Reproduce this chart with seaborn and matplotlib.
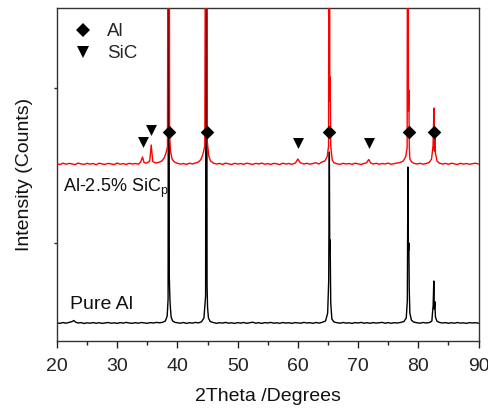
import matplotlib
matplotlib.use("Agg")
import matplotlib.pyplot as plt
from matplotlib.lines import Line2D
import seaborn as sns
import pandas as pd

# ---- Pure Al pattern: (2theta in degrees, intensity in counts) ----
al_pattern = [
    (20.0, 182), (20.5, 176), (21.0, 185), (21.5, 178), (22.0, 186), (22.5, 194),
    (22.8, 205), (23.1, 188), (23.5, 180), (24.0, 184), (24.5, 175), (25.0, 182),
    (25.5, 178), (26.0, 184), (26.5, 177), (27.0, 183), (27.5, 176), (28.0, 181),
    (28.5, 185), (29.0, 178), (29.5, 182), (30.0, 176), (30.5, 184), (31.0, 179),
    (31.5, 186), (32.0, 180), (32.5, 177), (33.0, 183), (33.5, 178), (34.0, 185),
    (34.5, 181), (35.0, 177), (35.5, 184), (36.0, 180), (36.5, 186), (37.0, 182),
    (37.5, 186), (38.0, 200), (38.3, 250), (38.45, 420), (38.55, 9000), (38.65, 650),
    (38.72, 480), (38.8, 360), (38.95, 240), (39.2, 200), (39.6, 186), (40.0, 182),
    (40.5, 178), (41.0, 185), (41.5, 176), (42.0, 183), (42.5, 179), (43.0, 186),
    (43.5, 181), (44.0, 192), (44.4, 230), (44.68, 450), (44.82, 9000), (44.92, 560),
    (45.0, 340), (45.15, 230), (45.45, 194), (46.0, 184), (46.5, 177), (47.0, 183),
    (47.5, 179), (48.0, 186), (48.5, 178), (49.0, 182), (49.5, 176), (50.0, 184),
    (50.5, 179), (51.0, 185), (51.5, 177), (52.0, 182), (52.5, 188), (53.0, 178),
    (53.5, 183), (54.0, 176), (54.5, 184), (55.0, 180), (55.5, 186), (56.0, 178),
    (56.5, 182), (57.0, 177), (57.5, 185), (58.0, 179), (58.5, 183), (59.0, 176),
    (59.5, 184), (60.0, 181), (60.5, 178), (61.0, 186), (61.5, 180), (62.0, 183),
    (62.5, 177), (63.0, 185), (63.5, 179), (64.0, 186), (64.6, 200), (64.95, 280),
    (65.12, 600), (65.23, 1890), (65.3, 900), (65.36, 1010), (65.46, 380), (65.65, 220),
    (66.0, 190), (66.5, 183), (67.0, 178), (67.5, 185), (68.0, 179), (68.5, 182),
    (69.0, 176), (69.5, 184), (70.0, 180), (70.5, 186), (71.0, 178), (71.5, 183),
    (72.0, 177), (72.5, 184), (73.0, 179), (73.5, 182), (74.0, 186), (74.5, 178),
    (75.0, 184), (75.5, 177), (76.0, 183), (76.5, 180), (77.0, 185), (77.6, 194),
    (78.0, 230), (78.18, 400), (78.28, 1740), (78.36, 900), (78.43, 980), (78.5, 520),
    (78.6, 280), (78.85, 210), (79.2, 190), (79.8, 182), (80.3, 178), (80.8, 185),
    (81.3, 180), (81.8, 184), (82.25, 198), (82.47, 360), (82.58, 600), (82.66, 320),
    (82.75, 393), (82.85, 240), (83.1, 198), (83.5, 186), (84.0, 180), (84.5, 184),
    (85.0, 177), (85.5, 183), (86.0, 178), (86.5, 185), (87.0, 179), (87.5, 182),
    (88.0, 176), (88.5, 184), (89.0, 180), (89.5, 183), (90.0, 178),
]

# ---- Al-2.5% SiCp pattern ----
composite_pattern = [
    (20.0, 1772), (20.5, 1765), (21.0, 1778), (21.5, 1768), (22.0, 1776), (22.5, 1770),
    (23.0, 1764), (23.5, 1779), (24.0, 1771), (24.5, 1766), (25.0, 1777), (25.5, 1769),
    (26.0, 1775), (26.5, 1763), (27.0, 1778), (27.5, 1770), (28.0, 1767), (28.5, 1776),
    (29.0, 1771), (29.5, 1765), (30.0, 1779), (30.5, 1768), (31.0, 1774), (31.5, 1766),
    (32.0, 1777), (32.5, 1770), (33.0, 1775), (33.5, 1768), (33.9, 1790), (34.2, 1840),
    (34.45, 1785), (34.9, 1778), (35.4, 1800), (35.65, 1960), (35.9, 1795), (36.4, 1780),
    (36.9, 1786), (37.4, 1800), (37.8, 1830), (38.1, 1880), (38.35, 1940), (38.55, 9000),
    (38.7, 2050), (38.85, 1900), (39.1, 1820), (39.5, 1790), (40.0, 1777), (40.5, 1769),
    (41.0, 1775), (41.5, 1766), (42.0, 1778), (42.5, 1771), (43.0, 1780), (43.5, 1790),
    (43.9, 1815), (44.2, 1860), (44.55, 1950), (44.82, 9000), (44.95, 2000), (45.2, 1850),
    (45.5, 1800), (46.0, 1778), (46.5, 1770), (47.0, 1776), (47.5, 1766), (48.0, 1779),
    (48.5, 1771), (49.0, 1765), (49.5, 1777), (50.0, 1769), (50.5, 1775), (51.0, 1767),
    (51.5, 1778), (52.0, 1772), (52.5, 1766), (53.0, 1776), (53.5, 1770), (54.0, 1779),
    (54.5, 1768), (55.0, 1774), (55.5, 1766), (56.0, 1777), (56.5, 1771), (57.0, 1765),
    (57.5, 1778), (58.0, 1770), (58.5, 1775), (59.0, 1767), (59.6, 1780), (60.0, 1820),
    (60.4, 1782), (61.0, 1770), (61.5, 1777), (62.0, 1768), (62.5, 1775), (63.0, 1782),
    (63.5, 1770), (64.0, 1790), (64.5, 1800), (64.9, 1850), (65.1, 1950), (65.23, 9000),
    (65.3, 2400), (65.36, 2640), (65.46, 1950), (65.7, 1810), (66.0, 1782), (66.5, 1772),
    (67.0, 1766), (67.5, 1777), (68.0, 1770), (68.5, 1775), (69.0, 1767), (69.5, 1778),
    (70.0, 1771), (70.5, 1765), (71.0, 1776), (71.4, 1782), (71.77, 1815), (72.1, 1780),
    (72.5, 1770), (73.0, 1777), (73.5, 1768), (74.0, 1775), (74.5, 1770), (75.0, 1779),
    (75.5, 1767), (76.0, 1774), (76.5, 1780), (77.0, 1786), (77.5, 1800), (77.9, 1840),
    (78.15, 1930), (78.28, 9000), (78.36, 2300), (78.43, 2510), (78.5, 1950), (78.6, 1820),
    (78.9, 1790), (79.3, 1776), (79.8, 1770), (80.3, 1777), (80.8, 1768), (81.3, 1775),
    (81.8, 1785), (82.2, 1820), (82.45, 1950), (82.6, 2330), (82.68, 1900), (82.75, 2050),
    (82.85, 1880), (83.1, 1800), (83.5, 1778), (84.0, 1770), (84.5, 1776), (85.0, 1767),
    (85.5, 1778), (86.0, 1771), (86.5, 1765), (87.0, 1777), (87.5, 1769), (88.0, 1775),
    (88.5, 1767), (89.0, 1772), (89.5, 1778), (90.0, 1770),
]

al_theta = [p[0] for p in al_pattern]
al_counts = [p[1] for p in al_pattern]
comp_theta = [p[0] for p in composite_pattern]
comp_counts = [p[1] for p in composite_pattern]

# ---- Phase markers ----
al_peak_theta = [38.6, 44.85, 65.25, 78.4, 82.6]
al_peak_level = [2090, 2090, 2090, 2090, 2090]
sic_peak_theta = [34.2, 35.65, 60.0, 71.77]
sic_peak_level = [1990, 2110, 1980, 1980]

xticks = [20, 30, 40, 50, 60, 70, 80, 90]

sns.set_theme(style="ticks")
plt.rcParams["font.family"] = ["Liberation Sans", "DejaVu Sans"]
plt.rcParams["mathtext.fontset"] = "custom"
plt.rcParams["mathtext.rm"] = "Liberation Sans"
plt.rcParams["mathtext.it"] = "Liberation Sans"

fig = plt.figure(figsize=(4.88, 4.09), dpi=100)
ax = fig.add_axes([57 / 488, (409 - 341) / 409, 421.5 / 488, 333 / 409])

al_df = pd.DataFrame({"theta": al_theta, "counts": al_counts})
comp_df = pd.DataFrame({"theta": comp_theta, "counts": comp_counts})

sns.lineplot(data=al_df, x="theta", y="counts", color="black", lw=1.0,
             sort=False, estimator=None, ax=ax, zorder=2)
sns.lineplot(data=comp_df, x="theta", y="counts", color="#ff0000", lw=1.0,
             sort=False, estimator=None, ax=ax, zorder=3)

ax.scatter(al_peak_theta, al_peak_level, marker="D", s=48, color="black",
           linewidths=0, zorder=5)
ax.scatter(sic_peak_theta, sic_peak_level, marker="v", s=62, color="black",
           linewidths=0, zorder=5)

ax.text(21.0, 1493, "Al-2.5% SiC$_{\\mathrm{p}}$", fontsize=13, color="#111111")
ax.text(22.2, 320, "Pure Al", fontsize=14, color="#111111")

handles = [Line2D([], [], ls="none", marker="D", ms=7, color="black", mew=0),
           Line2D([], [], ls="none", marker="v", ms=8, color="black", mew=0)]
ax.legend(handles, ["Al", "SiC"], loc="upper left", bbox_to_anchor=(0.0396, 0.954),
          frameon=False, fontsize=13.5, handlelength=1.0, handletextpad=0.8,
          labelspacing=0.25, borderaxespad=0.0, borderpad=0.0)

ax.set_xlim(20, 90)
ax.set_ylim(0, 3330)
ax.set_xticks(xticks)
ax.set_xticks([25, 35, 45, 55, 65, 75, 85], minor=True)
ax.set_yticks([980, 2530])
ax.set_yticklabels([])
ax.tick_params(axis="x", which="major", direction="out", length=5, width=1,
               labelsize=14, pad=7.3, colors="#222222")
ax.tick_params(axis="x", which="minor", direction="out", length=3, width=1,
               colors="#222222")
ax.tick_params(axis="y", direction="out", length=2, width=1)

for side in ["left", "right", "top", "bottom"]:
    ax.spines[side].set_visible(True)
    ax.spines[side].set_color("#333333")
    ax.spines[side].set_linewidth(1.0)

ax.set_xlabel("2Theta /Degrees", fontsize=14, labelpad=9.5, color="#111111")
ax.set_ylabel("Intensity (Counts)", fontsize=14, labelpad=11.5, color="#111111")

fig.savefig("out.png", dpi=100)
